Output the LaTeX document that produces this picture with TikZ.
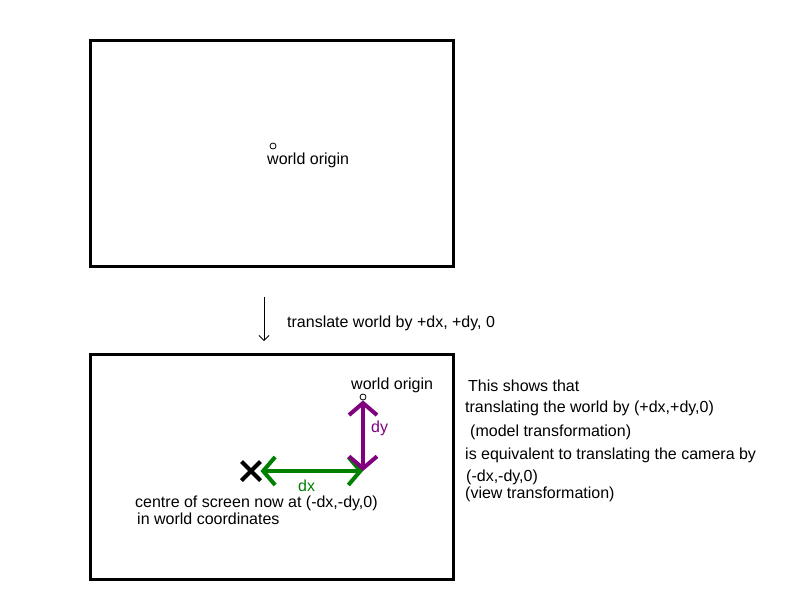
\documentclass[tikz,border=0pt]{standalone}
\usepackage{fontspec}
\setmainfont{Liberation Sans}
\usetikzlibrary{arrows.meta,shapes.misc}
\definecolor{dxgreen}{RGB}{0,128,0}
\definecolor{dypurple}{RGB}{128,0,128}
\tikzset{
  screen/.style={draw, line width=3pt},
  origin/.style={draw, circle, inner sep=0pt, minimum size=6pt, line width=0.8pt, fill=white},
  txt/.style={anchor=west, inner sep=0pt, font=\fontsize{16}{19}\selectfont},
  shift arrow/.style={line width=4pt, {Straight Barb[length=12pt,width=28pt]}-{Straight Barb[length=12pt,width=28pt]}},
}
\begin{document}
\begin{tikzpicture}[x=1pt, y=-1pt]
\useasboundingbox (0,0) rectangle (800,600);
% before the translation
\draw[screen] (90,40) rectangle (453,266);
\node[origin] (o1) at (273,146) {};
\node[txt] (o1text) at (267,160) {world origin};

% the translation
\coordinate (from) at (264,297);
\coordinate (to) at (264,341);
\draw[-{Straight Barb[length=5pt,width=10pt]}, line width=0.8pt] (from) -- (to);
\node[txt] (move) at (287,323) {translate world by +dx, +dy, 0};

% after the translation
\draw[screen] (90,354) rectangle (453,579);
\node[origin] (o2) at (363,397) {};
\node[txt] (o2text) at (351,385) {world origin};
\node[cross out, draw, line width=4pt, minimum size=15pt, inner sep=0pt] (cx) at (251,471) {};
\coordinate (corner) at (363,471);
\draw[shift arrow, dxgreen] (cx.east) -- (corner);
\draw[shift arrow, dypurple] (corner) -- (o2);
\node[txt, text=dxgreen] (dx) at (298,486) {dx};
\node[txt, text=dypurple] (dy) at (371,428) {dy};
\node[txt] (centre) at (135,503) {centre of screen now at (-dx,-dy,0)};
\node[txt] (incoord) at (137,519) {in world coordinates};

% explanation
\node[txt] (s1) at (468,386) {This shows that};
\node[txt] (s2) at (465,408) {translating the world by (+dx,+dy,0)};
\node[txt] (s3) at (470,432) {(model transformation)};
\node[txt] (s4) at (465,455) {is equivalent to translating the camera by};
\node[txt] (s5) at (466,477) {(-dx,-dy,0)};
\node[txt] (s6) at (465,494) {(view transformation)};
\end{tikzpicture}
\end{document}
